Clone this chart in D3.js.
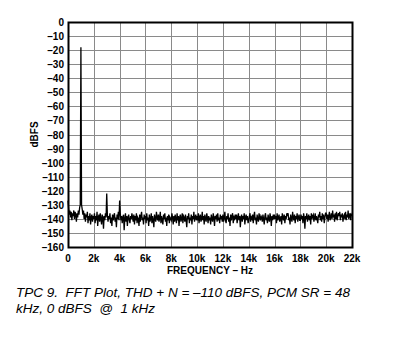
<!DOCTYPE html>
<html>
<head>
<meta charset="utf-8">
<script src="https://cdn.jsdelivr.net/npm/d3@7"></script>
<style>
  body { margin: 0; background: #fff; }
  text { font-family: "Liberation Sans", Arial, sans-serif; }
  .caption { white-space: pre; }
</style>
</head>
<body>
<div class="chart"></div>
<script>
var width = 400, height = 356;
var margin = {top: 22, right: 48, bottom: 109, left: 68};

// FFT spectrum, 50 Hz bins from 0 to 22 kHz (dBFS), 20 values per kHz
var freqStep = 50;
var levels = [
  -127,-133,-137,-134,-139,-135,-141,-136,-138,-134,-140,-135,-137,-142,-136,-139,-134,-137,-132,-130,
  -18,-130,-133,-137,-134,-140,-136,-142,-137,-139,-135,-143,-138,-141,-136,-144,-139,-137,-142,-138,
  -140,-136,-143,-138,-141,-135,-145,-139,-137,-142,-136,-140,-144,-137,-139,-147,-138,-141,-136,-139,
  -122,-137,-142,-138,-140,-136,-143,-139,-145,-137,-141,-138,-136,-142,-139,-146,-137,-140,-135,-141,
  -127,-136,-141,-138,-143,-139,-137,-148,-140,-136,-142,-138,-145,-139,-137,-141,-143,-138,-140,-136,
  -139,-142,-137,-144,-138,-141,-136,-143,-139,-140,-145,-137,-142,-138,-135,-141,-139,-144,-137,-140,
  -138,-143,-136,-141,-139,-145,-137,-142,-140,-136,-143,-138,-141,-146,-137,-140,-142,-135,-139,-141,
  -137,-142,-139,-135,-143,-138,-141,-144,-137,-140,-136,-142,-139,-145,-138,-141,-137,-143,-139,-140,
  -141,-136,-139,-144,-138,-142,-137,-140,-143,-136,-141,-138,-145,-139,-137,-142,-140,-136,-143,-138,
  -139,-142,-137,-141,-146,-138,-140,-136,-143,-139,-141,-137,-144,-138,-140,-135,-142,-139,-137,-141,
  -138,-141,-136,-143,-139,-137,-142,-140,-135,-141,-138,-144,-137,-140,-142,-136,-139,-143,-138,-141,
  -139,-144,-137,-140,-142,-136,-139,-145,-138,-140,-137,-142,-136,-141,-139,-143,-137,-140,-138,-142,
  -137,-142,-139,-135,-141,-143,-138,-140,-136,-142,-139,-145,-137,-141,-138,-136,-143,-139,-140,-137,
  -140,-137,-143,-139,-136,-141,-138,-146,-139,-137,-142,-138,-140,-136,-144,-139,-137,-141,-138,-143,
  -141,-138,-136,-142,-139,-140,-137,-143,-138,-135,-141,-139,-144,-137,-140,-142,-136,-139,-141,-138,
  -139,-142,-137,-140,-144,-138,-136,-141,-139,-143,-137,-140,-142,-136,-139,-145,-138,-141,-137,-140,
  -137,-140,-138,-143,-136,-141,-139,-137,-142,-140,-138,-144,-136,-139,-141,-137,-143,-138,-140,-136,
  -138,-136,-141,-139,-144,-137,-140,-142,-135,-139,-141,-137,-143,-138,-140,-136,-142,-139,-137,-141,
  -141,-137,-140,-138,-143,-136,-139,-147,-138,-140,-136,-142,-139,-137,-141,-138,-144,-136,-140,-138,
  -137,-142,-139,-136,-141,-138,-140,-143,-137,-139,-135,-141,-138,-142,-136,-140,-137,-143,-139,-136,
  -136,-140,-137,-142,-138,-135,-141,-139,-136,-140,-134,-139,-137,-142,-136,-140,-135,-141,-138,-136,
  -138,-135,-141,-137,-139,-136,-142,-138,-137,-140,-135,-141,-137,-139,-134,-140,-138,-136,-141,-137,
  -138
];

var xTicks = [0, 2000, 4000, 6000, 8000, 10000, 12000, 14000, 16000, 18000, 20000, 22000];
var xTickLabels = ["0", "2k", "4k", "6k", "8k", "10k", "12k", "14k", "16k", "18k", "20k", "22k"];
var yTicks = d3.range(0, -161, -10);

var captionLines = [
  "TPC 9.  FFT Plot, THD + N = \u2013110 dBFS, PCM SR = 48",
  "kHz, 0 dBFS  @  1 kHz"
];

var points = levels.map(function(v, i) { return {f: i * freqStep, db: v}; });

var svg = d3.select('.chart')
	.append('svg')
	.attr('width', width)
	.attr('height', height);

var w = 352 - margin.left, h = 247 - margin.top;

var x = d3.scaleLinear().domain([0, 22000]).range([margin.left, margin.left + w]);
var y = d3.scaleLinear().domain([0, -160]).range([margin.top, margin.top + h]);

// grid
svg.append('g')
	.selectAll('line')
	.data(xTicks)
	.enter().append('line')
	.attr('x1', function(d) { return Math.round(x(d)) + 0.5; })
	.attr('x2', function(d) { return Math.round(x(d)) + 0.5; })
	.attr('y1', margin.top)
	.attr('y2', margin.top + h)
	.attr('stroke', '#8a8a8a')
	.attr('stroke-width', 1);

svg.append('g')
	.selectAll('line')
	.data(yTicks)
	.enter().append('line')
	.attr('x1', margin.left)
	.attr('x2', margin.left + w)
	.attr('y1', function(d) { return Math.round(y(d)) + 0.5; })
	.attr('y2', function(d) { return Math.round(y(d)) + 0.5; })
	.attr('stroke', '#8a8a8a')
	.attr('stroke-width', 1);

// spectrum
var line = d3.line()
	.x(function(d) { return x(d.f); })
	.y(function(d) { return y(d.db); });

svg.append('path')
	.datum(points)
	.attr('d', line)
	.attr('fill', 'none')
	.attr('stroke', '#000')
	.attr('stroke-width', 1.3);

// frame
svg.append('rect')
	.attr('x', margin.left + 0.5)
	.attr('y', margin.top + 0.5)
	.attr('width', w)
	.attr('height', h)
	.attr('fill', 'none')
	.attr('stroke', '#000')
	.attr('stroke-width', 2);

// y tick labels
svg.append('g')
	.selectAll('text')
	.data(yTicks)
	.enter().append('text')
	.attr('x', margin.left - 4)
	.attr('y', function(d) { return y(d) + 4; })
	.attr('text-anchor', 'end')
	.attr('font-size', 10)
	.attr('font-weight', 'bold')
	.text(function(d) { return d === 0 ? "0" : "\u2013" + Math.abs(d); });

// x tick labels
svg.append('g')
	.selectAll('text')
	.data(xTicks)
	.enter().append('text')
	.attr('x', function(d) { return x(d); })
	.attr('y', 262)
	.attr('text-anchor', 'middle')
	.attr('font-size', 10)
	.attr('font-weight', 'bold')
	.text(function(d, i) { return xTickLabels[i]; });

svg.append('text')
	.attr('x', x(11000))
	.attr('y', 274)
	.attr('text-anchor', 'middle')
	.attr('font-size', 10)
	.attr('font-weight', 'bold')
	.text("FREQUENCY \u2013 Hz");

svg.append('text')
	.attr('transform', 'translate(38,' + y(-80) + ') rotate(-90)')
	.attr('text-anchor', 'middle')
	.attr('font-size', 10)
	.attr('font-weight', 'bold')
	.text("dBFS");

svg.append('g')
	.selectAll('text')
	.data(captionLines)
	.enter().append('text')
	.attr('class', 'caption')
	.attr('x', 16)
	.attr('y', function(d, i) { return 297 + i * 16; })
	.attr('font-size', 13.5)
	.attr('font-style', 'italic')
	.text(function(d) { return d; });
</script>
</body>
</html>
